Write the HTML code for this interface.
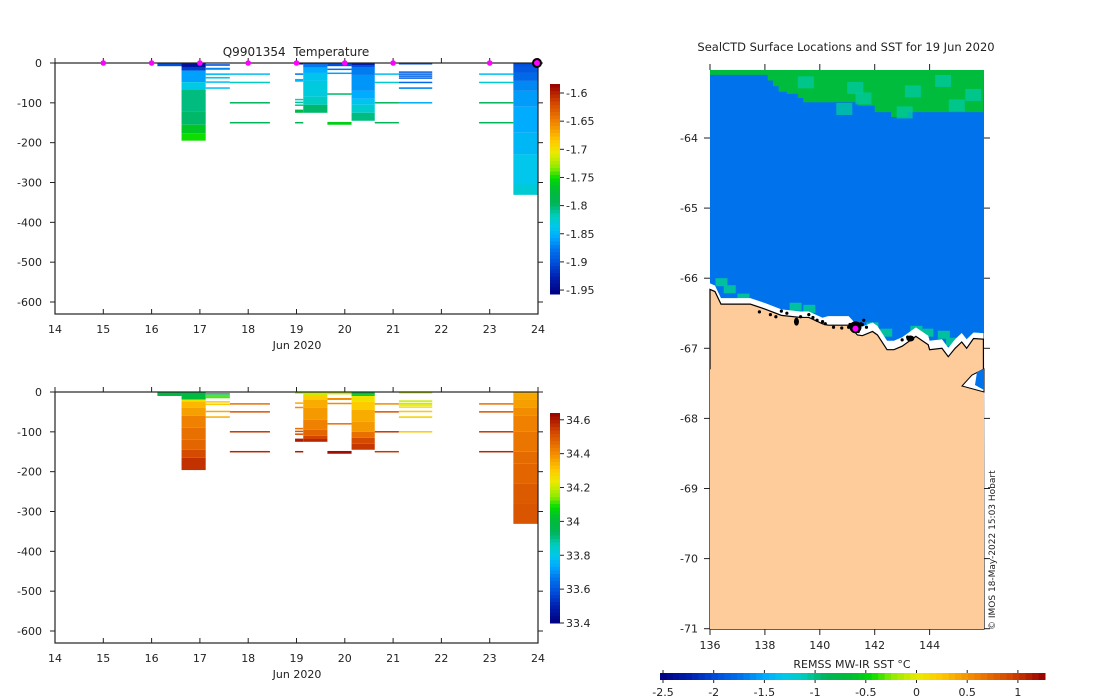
<!DOCTYPE html>
<html><head><meta charset="utf-8">
<style>
html,body{margin:0;padding:0;background:#fff;}
svg{display:block;font-family:"DejaVu Sans","Liberation Sans",sans-serif;}
text{fill:#222;white-space:pre;}
</style></head>
<body>
<svg id="fig" width="1100" height="700" viewBox="0 0 1100 700" xmlns="http://www.w3.org/2000/svg">
<g id="topPlot"></g>
<g id="botPlot"></g>
<g id="map"></g>
<text x="296" y="56" font-size="12" text-anchor="middle" xml:space="preserve">Q9901354&#160; Temperature</text>
<text x="846" y="51" font-size="11.5" text-anchor="middle">SealCTD Surface Locations and SST for 19 Jun 2020</text>
<text x="852" y="668" font-size="11" text-anchor="middle">REMSS MW-IR SST °C</text>
<text transform="translate(995,630) rotate(-90)" font-size="9">© IMOS 18-May-2022 15:03 Hobart</text>
</svg>
<script>
// ---------- data ----------
const dayTicks = [14,15,16,17,18,19,20,21,22,23,24];
const depthTicks = [0,-100,-200,-300,-400,-500,-600];
const tempTicks = [-1.6,-1.65,-1.7,-1.75,-1.8,-1.85,-1.9,-1.95];
const salTicks = [34.6,34.4,34.2,34,33.8,33.6,33.4];
const markerDays = [15,16,17,18,19,20,21,23];
const profStart = [16.12,16.62,17.12,17.62,18.97,19.14,19.64,20.14,20.62,21.12,22.78,23.49];
const profEnd   = [16.62,17.12,17.62,18.45,19.14,19.64,20.14,20.62,21.12,21.81,23.49,23.99];
const tempLayers = [
 [[0,8,-1.9]],
 [[0,10,-1.94],[10,19,-1.91],[19,48,-1.86],[48,66,-1.835],[66,122,-1.805],[122,155,-1.8],[155,176,-1.765],[176,195,-1.75]],
 [[3,7,-1.9],[12,17,-1.87],[26,30,-1.845],[35,39,-1.835],[46,48,-1.845],[61,63,-1.845]],
 [[26,28,-1.845],[47,49,-1.82],[98,100,-1.795],[148,150,-1.795]],
 [[0,3,-1.94],[26,28,-1.88],[40,47,-1.85],[90,93,-1.82],[97,100,-1.81],[104,106,-1.81],[117,125,-1.785],[148,150,-1.795]],
 [[0,4,-1.9],[4,12,-1.875],[12,25,-1.855],[25,45,-1.84],[45,85,-1.832],[85,105,-1.82],[105,125,-1.8]],
 [[0,8,-1.9],[14,17,-1.88],[24,27,-1.86],[76,79,-1.8],[148,155,-1.76]],
 [[0,5,-1.93],[5,12,-1.9],[12,30,-1.875],[30,70,-1.865],[70,90,-1.855],[90,105,-1.84],[105,125,-1.825],[125,145,-1.805]],
 [[26,28,-1.845],[47,49,-1.825],[98,100,-1.795],[148,150,-1.795]],
 [[0,3,-1.9],[21,23,-1.89],[26,28,-1.89],[31,33,-1.89],[36,38,-1.89],[47,49,-1.885],[61,65,-1.87],[98,101,-1.855]],
 [[26,28,-1.845],[47,49,-1.825],[98,100,-1.795],[148,150,-1.795]],
 [[0,3,-1.91],[3,10,-1.9],[10,25,-1.895],[25,45,-1.885],[45,70,-1.87],[70,110,-1.862],[110,175,-1.855],[175,230,-1.848],[230,305,-1.838],[305,331,-1.828]]
];
const salLayers = [
 [[0,10,33.98]],
 [[0,10,33.98],[10,19,34.0],[19,24,34.25],[24,40,34.33],[40,60,34.37],[60,90,34.42],[90,120,34.45],[120,145,34.47],[145,165,34.52],[165,196,34.56]],
 [[3,5,33.98],[8,11,34.1],[12,14,34.12],[23,26,34.3],[29,33,34.3],[47,49,34.35],[61,63,34.35]],
 [[28,30,34.45],[48,50,34.5],[98,100,34.55],[148,150,34.58]],
 [[0,4,34.15],[26,28,34.35],[37,39,34.4],[90,93,34.45],[97,99,34.5],[104,106,34.52],[117,125,34.6],[148,150,34.6]],
 [[0,10,34.2],[10,20,34.3],[20,40,34.35],[40,70,34.38],[70,95,34.42],[95,110,34.47],[110,118,34.53],[118,125,34.58]],
 [[0,6,34.2],[15,20,34.4],[27,29,34.4],[78,80,34.45],[148,155,34.62]],
 [[0,6,34.0],[6,10,34.05],[10,25,34.25],[25,45,34.3],[45,75,34.35],[75,100,34.38],[100,115,34.45],[115,130,34.52],[130,145,34.55]],
 [[28,30,34.4],[48,50,34.5],[98,100,34.55],[148,150,34.55]],
 [[0,3,34.2],[21,23,34.2],[27,29,34.2],[31,33,34.22],[36,38,34.25],[47,49,34.3],[61,65,34.28],[98,101,34.3]],
 [[28,30,34.45],[48,50,34.5],[98,100,34.55],[148,150,34.58]],
 [[0,5,34.34],[5,20,34.36],[20,40,34.37],[40,60,34.4],[60,100,34.42],[100,150,34.44],[150,180,34.46],[180,230,34.47],[230,280,34.49],[280,331,34.5]]
];
// map data
const lonTicks = [136,138,140,142,144];
const latTicks = [-64,-65,-66,-67,-68,-69,-70,-71];
const sstTicks = [-2.5,-2,-1.5,-1,-0.5,0,0.5,1];
const bandLon = [136,137.9,138.1,138.3,138.5,138.8,139.2,139.4,141.4,142.0,142.6,143.2,145.96];
const bandLat = [-63.1,-63.1,-63.18,-63.26,-63.34,-63.37,-63.43,-63.49,-63.54,-63.63,-63.7,-63.63,-63.63];
const patchLon = [141.0,141.3,143.1,144.7,145.3,139.2,140.6,142.8,144.2];
const patchLat = [-63.2,-63.35,-63.25,-63.45,-63.3,-63.12,-63.5,-63.55,-63.1];
const shoreLon = [136.2,136.5,137.0,138.9,139.4,140.6,141.7,142.2,143.3,143.7,144.3,144.6];
const shoreLat = [-66.0,-66.1,-66.22,-66.35,-66.38,-66.55,-66.63,-66.72,-66.68,-66.72,-66.75,-66.85];
const coastLon = [136,136.18,136.4,137.47,138.0,138.6,139.3,139.6,140.1,140.3,141.05,141.17,141.37,141.55,141.92,142.1,142.45,142.7,143.0,143.5,143.95,144.0,144.45,144.68,144.93,145.17,145.35,145.6,145.96];
const coastLat = [-66.16,-66.19,-66.37,-66.37,-66.44,-66.53,-66.56,-66.56,-66.65,-66.67,-66.67,-66.72,-66.81,-66.82,-66.76,-66.81,-67.02,-67.02,-66.97,-66.83,-66.95,-67.02,-67.0,-67.12,-67.0,-66.91,-67.0,-66.86,-66.87];
const trackLon = [137.8,138.2,138.4,138.8,139.3,139.6,140.1,140.2,140.5,140.8,141.1,141.2,141.3,141.4,141.5,141.6,141.25,141.4,143.0,143.2,143.3,141.7,138.6,141.05,141.55,139.75,139.9];
const trackLat = [-66.48,-66.52,-66.55,-66.5,-66.55,-66.52,-66.62,-66.65,-66.7,-66.71,-66.66,-66.7,-66.72,-66.68,-66.65,-66.6,-66.74,-66.76,-66.88,-66.84,-66.86,-66.7,-66.47,-66.7,-66.66,-66.56,-66.6];

// ---------- helpers ----------
const NS='http://www.w3.org/2000/svg';
function mk(tag,attrs,parent){const e=document.createElementNS(NS,tag);for(const k in attrs)e.setAttribute(k,attrs[k]);parent.appendChild(e);return e;}
const stops=[[0,[0,0,128]],[0.08,[0,32,176]],[0.15,[0,80,220]],[0.21,[0,115,236]],[0.27,[0,170,255]],[0.32,[0,200,235]],[0.37,[0,205,190]],[0.43,[0,180,90]],[0.5,[0,190,50]],[0.55,[0,220,0]],[0.6,[140,235,0]],[0.67,[235,235,0]],[0.73,[255,200,0]],[0.82,[240,130,0]],[0.91,[210,70,0]],[1,[150,0,0]]];
function cmap(f){f=Math.max(0,Math.min(1,f));for(let i=1;i<stops.length;i++){if(f<=stops[i][0]){const a=stops[i-1],b=stops[i],t=(f-a[0])/(b[0]-a[0]);return 'rgb('+a[1].map((v,j)=>Math.round(v+(b[1][j]-v)*t)).join(',')+')';}}return 'rgb(150,0,0)';}

function panel(g,top,cbMin,cbMax,cbTicks,layers,showMarkers,key){
  const L=55,R=538,B=top+251,Y600=top+239;
  const xs=d=>L+(d-14)*(R-L)/10;
  const ys=z=>top+z*(Y600-top)/600;
  for(let p=0;p<profStart.length;p++){
    for(const ly of layers[p]){
      const r=mk('rect',{x:xs(profStart[p]),y:ys(ly[0]),width:xs(profEnd[p])-xs(profStart[p]),height:Math.max(1.5,ys(ly[1])-ys(ly[0])),fill:cmap((ly[2]-cbMin)/(cbMax-cbMin))},g);
      
      
    }
  }
  const box=mk('rect',{x:L,y:top,width:R-L,height:B-top,fill:'none',stroke:'#222','stroke-width':1.2},g);
  
  
  for(const d of dayTicks){
    mk('line',{x1:xs(d),x2:xs(d),y1:B,y2:B-5,stroke:'#222'},g);
    mk('line',{x1:xs(d),x2:xs(d),y1:top,y2:top-5,stroke:'#222'},g);
    const t=mk('text',{x:xs(d),y:B+19,'font-size':11,'text-anchor':'middle'},g);t.textContent=d;
    
    
  }
  const jt=mk('text',{x:297,y:B+35,'font-size':11,'text-anchor':'middle'},g);jt.textContent='Jun 2020';
  
  
  for(const z of depthTicks){
    const y=ys(-z);
    mk('line',{x1:L-5,x2:L,y1:y,y2:y,stroke:'#222'},g);
    mk('line',{x1:R,x2:R+5,y1:y,y2:y,stroke:'#222'},g);
    const t=mk('text',{x:L-13,y:y+4,'font-size':11,'text-anchor':'end'},g);t.textContent=z;
    
    
  }
  if(showMarkers){
    for(const d of markerDays){
      const c=mk('circle',{cx:xs(d),cy:top,r:2.8,fill:'#f0f'},g);
      
      
    }
    const c=mk('circle',{cx:xs(24)-1,cy:top,r:4,fill:'#f0f',stroke:'#000','stroke-width':2},g);
    
    
  }
  const cx=550,cw=10,ct=top+21,cb=top+231,n=60;
  for(let i=0;i<n;i++){
    const r=mk('rect',{x:cx,y:ct+(cb-ct)*i/n,width:cw,height:(cb-ct)/n+0.5,fill:cmap(1-(i+0.5)/n)},g);
    
    
  }
  for(const v of cbTicks){
    const y=ct+(cbMax-v)/(cbMax-cbMin)*(cb-ct);
    mk('line',{x1:cx+cw,x2:cx+cw+4,y1:y,y2:y,stroke:'#222'},g);
    const t=mk('text',{x:cx+cw+6,y:y+4,'font-size':11},g);t.textContent=v;
    
    
  }
}
panel(document.getElementById('topPlot'),63,-1.957,-1.584,tempTicks,tempLayers,true,'temperature');
panel(document.getElementById('botPlot'),392,33.4,34.64,salTicks,salLayers,false,'salinity');

// ---------- map ----------
const mg=document.getElementById('map');
const ML=710,MR=984,MT=70,MB=629;
const lx=lon=>ML+(lon-136)*27.45;
const ly=lat=>138+(-64-lat)*70.1;
const ocean=mk('rect',{x:ML,y:MT,width:MR-ML,height:MB-MT,fill:'#0073ec'},mg);


let bp='M'+ML+','+MT;
for(let i=0;i<bandLon.length-1;i++){bp+=' L'+lx(bandLon[i])+','+ly(bandLat[i])+' L'+lx(bandLon[i+1])+','+ly(bandLat[i]);}
bp+=' L'+MR+','+MT+' Z';
const band=mk('path',{d:bp,fill:'#00bc3c'},mg);


for(let i=0;i<patchLon.length;i++){
  const r=mk('rect',{x:lx(patchLon[i]),y:ly(patchLat[i]),width:16,height:12,fill:'#00c8a0',opacity:0.8},mg);
  
  
}
for(let i=0;i<shoreLon.length;i++){
  const r=mk('rect',{x:lx(shoreLon[i]),y:ly(shoreLat[i]),width:12,height:8,fill:'#00c0a0'},mg);
  
  
}
let wb='M'+lx(coastLon[0])+','+(ly(coastLat[0])-5);
for(let i=0;i<coastLon.length;i++) wb+=' L'+lx(coastLon[i])+','+(ly(coastLat[i])-(i>8&&i<27?9:6));
for(let i=coastLon.length-1;i>=0;i--) wb+=' L'+lx(coastLon[i])+','+ly(coastLat[i]);
const wh=mk('path',{d:wb,fill:'#fff'},mg);


let lp='M'+ML+','+MB;
for(let i=0;i<coastLon.length;i++) lp+=' L'+lx(coastLon[i])+','+ly(coastLat[i]);
lp+=' L'+MR+','+MB+' Z';
const land=mk('path',{d:lp,fill:'#fecb9a',stroke:'#000','stroke-width':1.2},mg);


const landFix=mk('rect',{x:ML,y:ly(-67.3),width:MR-ML,height:MB-ly(-67.3),fill:'#fecb9a'},mg);


const notch=mk('path',{d:'M962,386 L972,375 L984,369 L984,392 Z',fill:'#fff',stroke:'#000','stroke-width':1},mg);


const notchB=mk('path',{d:'M977,372 L984,369 L984,390 L975,385 Z',fill:'#0073ec'},mg);


for(let i=0;i<trackLon.length;i++){
  const c=mk('circle',{cx:lx(trackLon[i]),cy:ly(trackLat[i]),r:1.6,fill:'#000'},mg);
  
  
}
const big=mk('circle',{cx:lx(141.3),cy:ly(-66.7),r:6,fill:'#000'},mg);


const big2=mk('ellipse',{cx:lx(139.15),cy:ly(-66.62),rx:2.5,ry:4,fill:'#000'},mg);


const big3=mk('ellipse',{cx:lx(143.3),cy:ly(-66.86),rx:4,ry:3,fill:'#000'},mg);


const cur=mk('circle',{cx:lx(141.3),cy:ly(-66.72),r:3,fill:'#f0f'},mg);


for(const lo of lonTicks){
  mk('line',{x1:lx(lo),x2:lx(lo),y1:MT-6,y2:MT,stroke:'#222'},mg);
  mk('line',{x1:lx(lo),x2:lx(lo),y1:MB,y2:MB+6,stroke:'#222'},mg);
  const t=mk('text',{x:lx(lo),y:MB+20,'font-size':11,'text-anchor':'middle'},mg);t.textContent=lo;
  
  
}
for(const la of latTicks){
  const y=ly(la);
  mk('line',{x1:ML-6,x2:ML,y1:y,y2:y,stroke:'#222'},mg);
  mk('line',{x1:MR,x2:MR+6,y1:y,y2:y,stroke:'#222'},mg);
  const t=mk('text',{x:ML-12,y:y+4,'font-size':11,'text-anchor':'end'},mg);t.textContent=la;
  
  
}
const HL=660,HR=1045,HT=673,HH=7,nseg=60;
for(let i=0;i<nseg;i++){
  const r=mk('rect',{x:HL+(HR-HL)*i/nseg,y:HT,width:(HR-HL)/nseg+0.5,height:HH,fill:cmap((i+0.5)/nseg)},mg);
  
  
}
const sx=v=>663+(v+2.5)*101.4;
for(const v of sstTicks){
  mk('line',{x1:sx(v),x2:sx(v),y1:HT,y2:HT-3,stroke:'#222'},mg);
  mk('line',{x1:sx(v),x2:sx(v),y1:HT+HH,y2:HT+HH+3,stroke:'#222'},mg);
  const t=mk('text',{x:sx(v),y:696,'font-size':11,'text-anchor':'middle'},mg);t.textContent=v;
  
  
}
</script>
</body></html>
